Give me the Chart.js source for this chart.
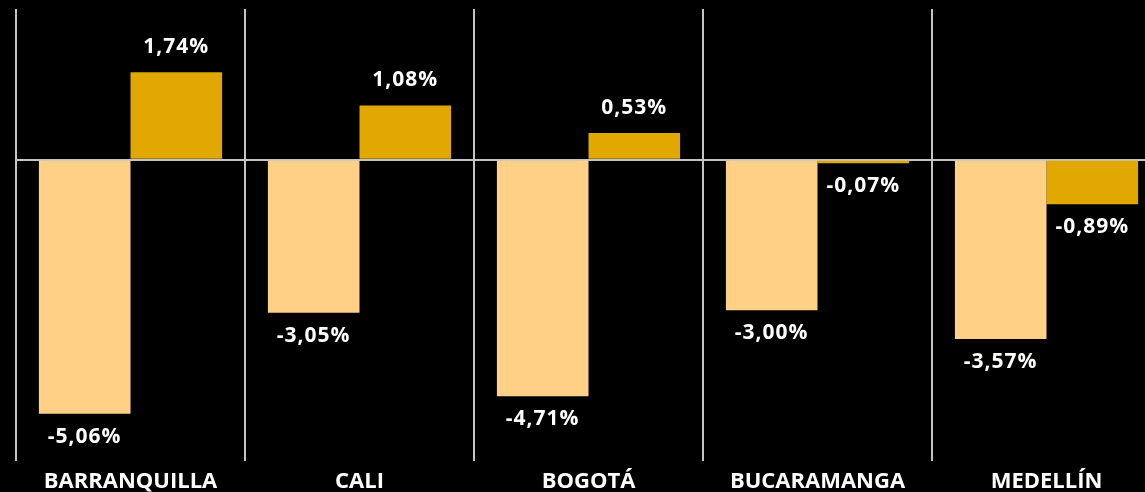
<!DOCTYPE html>
<html lang="es">
<head>
  <meta charset="UTF-8">
  <title>Variación por ciudad</title>
  <style>
    html, body {
      margin: 0;
      padding: 0;
      background: #000;
      overflow: hidden;
    }
    .grafico {
      position: relative;
      width: 1161px;
      height: 492px;
    }
  </style>
</head>
<body>
  <div class="grafico">
    <canvas id="chartCiudades"></canvas>
  </div>

<script src="https://cdn.jsdelivr.net/npm/chart.js"></script>
<script>
  // Datos
  const ciudades = ["BARRANQUILLA", "CALI", "BOGOTÁ", "BUCARAMANGA", "MEDELLÍN"];
  const serieClara = [-5.06, -3.05, -4.71, -3.00, -3.57];
  const serieOscura = [1.74, 1.08, 0.53, -0.07, -0.89];

  const colorClaro = '#ffd086';
  const colorOscuro = '#e0a800';
  const colorLinea = '#c4c4c4';

  // Formato con coma decimal
  function formatoPct(v) {
    return v.toFixed(2).replace('.', ',') + '%';
  }

  // Plugin sencillo para escribir los valores sobre / bajo cada barra
  const etiquetasBarras = {
    id: 'etiquetasBarras',
    afterDatasetsDraw(chart) {
      const ctx = chart.ctx;
      ctx.save();
      ctx.font = 'bold 21px "Open Sans"';
      ctx.letterSpacing = '1px';
      ctx.fillStyle = '#ffffff';
      ctx.textAlign = 'center';
      ctx.textBaseline = 'middle';
      chart.data.datasets.forEach((ds, i) => {
        const meta = chart.getDatasetMeta(i);
        meta.data.forEach((bar, j) => {
          const valor = ds.data[j];
          const y = valor >= 0 ? bar.y - 25 : bar.y + 23;
          ctx.fillText(formatoPct(valor), bar.x, y);
        });
      });
      ctx.restore();
    }
  };

  new Chart(document.getElementById('chartCiudades'), {
    type: 'bar',
    data: {
      labels: ciudades,
      datasets: [
        {
          data: serieClara,
          backgroundColor: colorClaro,
          borderWidth: 0,
          categoryPercentage: 0.8,
          barPercentage: 1.0
        },
        {
          data: serieOscura,
          backgroundColor: colorOscuro,
          borderWidth: 0,
          categoryPercentage: 0.8,
          barPercentage: 1.0
        }
      ]
    },
    options: {
      responsive: true,
      maintainAspectRatio: false,
      animation: false,
      layout: {
        padding: { left: 16, top: 9, right: 0, bottom: 0 }
      },
      plugins: {
        legend: { display: false },
        tooltip: { enabled: false }
      },
      scales: {
        x: {
          border: { display: false },
          grid: {
            offset: true,
            color: colorLinea,
            lineWidth: 2,
            drawTicks: false
          },
          ticks: {
            color: '#ffffff',
            padding: 8,
            font: { family: '"Open Sans"', size: 22, weight: 'bold' }
          },
          afterFit: (scale) => { scale.height = 31; }
        },
        y: {
          min: -6,
          max: 3,
          border: { display: false },
          grid: {
            drawTicks: false,
            lineWidth: 2,
            color: (c) => (c.tick && c.tick.value === 0 ? colorLinea : 'rgba(0,0,0,0)')
          },
          ticks: { display: false, stepSize: 1 }
        }
      }
    },
    plugins: [etiquetasBarras]
  });
</script>
</body>
</html>
